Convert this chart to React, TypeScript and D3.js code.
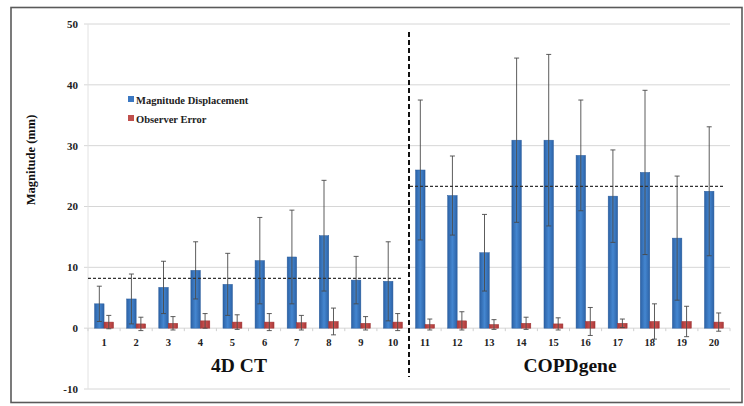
import React from "react";
import * as d3 from "d3";

const categories = ["1","2","3","4","5","6","7","8","9","10","11","12","13","14","15","16","17","18","19","20"];
const displacement = [4.0, 4.8, 6.7, 9.5, 7.2, 11.1, 11.7, 15.2, 7.9, 7.7, 26.0, 21.8, 12.4, 30.9, 30.9, 28.4, 21.7, 25.6, 14.8, 22.5];
const displacementErr = [2.9, 4.1, 4.3, 4.7, 5.1, 7.1, 7.7, 9.1, 3.9, 6.5, 11.5, 6.5, 6.3, 13.5, 14.1, 9.1, 7.6, 13.5, 10.2, 10.6];
const observerError = [1.0, 0.7, 0.8, 1.2, 1.0, 1.0, 0.9, 1.1, 0.8, 1.0, 0.6, 1.2, 0.6, 0.8, 0.7, 1.1, 0.8, 1.1, 1.1, 1.0];
const observerErrorErr = [1.1, 1.1, 1.1, 1.2, 1.2, 1.4, 1.2, 2.2, 1.1, 1.4, 0.9, 1.5, 0.8, 1.0, 1.0, 2.3, 0.7, 2.9, 2.5, 1.5];
const yTicks = [-10, 0, 10, 20, 30, 40, 50];
const groupMeans = [8.2, 23.3];
const groupLabels = ["4D CT", "COPDgene"];
const seriesNames = ["Magnitude Displacement", "Observer Error"];

const W = 744, H = 406;
const font = "'Liberation Serif', 'Times New Roman', serif";

export default function App() {
  const x = d3.scaleBand<string>().domain(categories).range([88, 730]).paddingInner(0.41).paddingOuter(0.205);
  const xs = d3.scaleBand<string>().domain(["d", "o"]).range([0, x.bandwidth()]);
  const y = d3.scaleLinear().domain([-10, 50]).range([389, 24]);
  const step = x.step();
  const bw = xs.bandwidth();
  const cap = 2.5;

  const errBar = (cx: number, v: number, e: number, key: string) => (
    <g key={key} stroke="#4a4a4a" strokeWidth={0.9}>
      <line x1={cx} x2={cx} y1={y(v + e)} y2={y(v - e)} />
      <line x1={cx - cap} x2={cx + cap} y1={y(v + e)} y2={y(v + e)} />
      <line x1={cx - cap} x2={cx + cap} y1={y(v - e)} y2={y(v - e)} />
    </g>
  );

  const leftEnd = (x("10") as number) + step * 0.5 + 3;
  const divX = (x("10") as number) + x.bandwidth() + (step - x.bandwidth()) / 2;
  const rightStart = divX + 1;
  const rightEnd = 724;

  return (
    <svg width={W} height={H} style={{ position: "absolute", left: 0, top: 0 }} fontFamily={font}>
      <defs>
        <linearGradient id="gb" x1="0" x2="1" y1="0" y2="0">
          <stop offset="0" stopColor="#2c62a6" />
          <stop offset="0.5" stopColor="#4486d0" />
          <stop offset="1" stopColor="#2c62a6" />
        </linearGradient>
        <linearGradient id="gr" x1="0" x2="1" y1="0" y2="0">
          <stop offset="0" stopColor="#a9383a" />
          <stop offset="0.5" stopColor="#cf5450" />
          <stop offset="1" stopColor="#a9383a" />
        </linearGradient>
      </defs>
      <rect x={0} y={0} width={W} height={H} fill="#ffffff" />
      <rect x={11} y={7.5} width={731} height={395} fill="#ffffff" stroke="#5a5a5a" strokeWidth={1.6} />
      {yTicks.map((t) => (
        <g key={t}>
          <line x1={84} x2={730} y1={y(t)} y2={y(t)} stroke="#d6d6d6" strokeWidth={1} />
          <text x={78} y={y(t)} dy="0.35em" textAnchor="end" fontSize={11} fontWeight="bold" fill="#222">{t}</text>
        </g>
      ))}
      <line x1={88} x2={88} y1={y(50)} y2={y(-10)} stroke="#e2e2e2" strokeWidth={1} />
      {categories.map((c, i) => {
        const bx = 88 + step * i;
        return <line key={"t" + c} x1={bx} x2={bx} y1={y(0)} y2={y(0) + 3} stroke="#cfcfcf" />;
      })}
      <line x1={730} x2={730} y1={y(0)} y2={y(0) + 3} stroke="#cfcfcf" />
      {categories.map((c, i) => {
        const x0 = x(c) as number;
        const xd = x0 + (xs("d") as number);
        const xo = x0 + (xs("o") as number);
        return (
          <g key={"b" + c}>
            <rect x={xd} y={y(displacement[i])} width={bw} height={y(0) - y(displacement[i])} fill="url(#gb)" stroke="#2a5c9c" strokeWidth={0.5} />
            <rect x={xo} y={y(observerError[i])} width={bw} height={y(0) - y(observerError[i])} fill="url(#gr)" stroke="#9e3433" strokeWidth={0.5} />
            {errBar(xd + bw / 2, displacement[i], displacementErr[i], "ed" + c)}
            {errBar(xo + bw / 2, observerError[i], observerErrorErr[i], "eo" + c)}
          </g>
        );
      })}
      {categories.map((c) => (
        <text key={"l" + c} x={(x(c) as number) + x.bandwidth() / 2} y={y(0) + 18} textAnchor="middle" fontSize={10.5} fontWeight="bold" fill="#222">{c}</text>
      ))}
      <line x1={88} x2={leftEnd} y1={y(groupMeans[0])} y2={y(groupMeans[0])} stroke="#333" strokeWidth={1.3} strokeDasharray="3,2" />
      <line x1={rightStart} x2={rightEnd} y1={y(groupMeans[1])} y2={y(groupMeans[1])} stroke="#333" strokeWidth={1.3} strokeDasharray="3,2" />
      <line x1={divX} x2={divX} y1={32} y2={377} stroke="#111" strokeWidth={2} strokeDasharray="5,3" />
      <text x={239} y={372} textAnchor="middle" fontSize={19.5} fontWeight="bold" fill="#111">{groupLabels[0]}</text>
      <text x={570} y={372} textAnchor="middle" fontSize={19.5} fontWeight="bold" fill="#111">{groupLabels[1]}</text>
      <text transform="translate(35,160) rotate(-90)" textAnchor="middle" fontSize={12.5} fontWeight="bold" fill="#111">Magnitude (mm)</text>
      <rect x={128} y={96} width={6} height={6} fill="#3b78c2" />
      <text x={136} y={103.5} fontSize={10.5} fontWeight="bold" fill="#222">{seriesNames[0]}</text>
      <rect x={128} y={115} width={6} height={6} fill="#c0504d" />
      <text x={136} y={122.5} fontSize={10.5} fontWeight="bold" fill="#222">{seriesNames[1]}</text>
    </svg>
  );
}
